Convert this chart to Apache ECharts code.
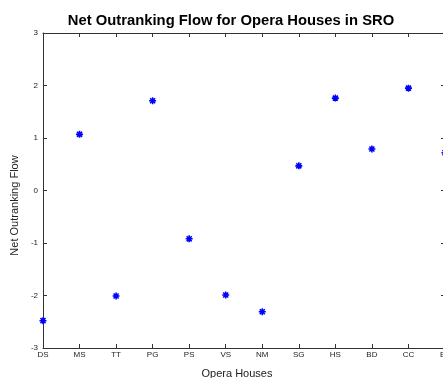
<!DOCTYPE html>
<html><head><meta charset="utf-8">
<script src="https://cdn.jsdelivr.net/npm/echarts@6/dist/echarts.min.js"></script>
<style>html,body{margin:0;padding:0;background:#fff;overflow:hidden}#c{width:443px;height:378px}</style>
</head><body><div id="c"></div>
<script>
const categories = ['DS','MS','TT','PG','PS','VS','NM','SG','HS','BD','CC','BF'];
const flowValues = [-2.48, 1.07, -2.01, 1.71, -0.92, -1.99, -2.31, 0.47, 1.76, 0.79, 1.95, 0.72];
const yTicks = [-3, -2, -1, 0, 1, 2, 3];

const chart = echarts.init(document.getElementById('c'), null, {renderer: 'canvas'});
const axisCol = '#333';
const font = 'Liberation Sans, Arial, Helvetica, sans-serif';
const asterisk = 'path://M0,-5L0,5M-5,0L5,0M-3.6,-3.6L3.6,3.6M-3.6,3.6L3.6,-3.6';
chart.setOption({
  animation: false,
  title: {
    text: 'Net Outranking Flow for Opera Houses in SRO',
    left: 226, top: 8, textAlign: 'center',
    textStyle: {fontFamily: font, fontSize: 14.8, fontWeight: 'bold', color: '#000'}
  },
  grid: {left: 43, right: -2, top: 33, bottom: 30, containLabel: false, outerBoundsMode: 'none'},
  xAxis: [{
    type: 'category', data: categories, boundaryGap: false, position: 'bottom',
    name: 'Opera Houses', nameLocation: 'middle', nameGap: 20,
    nameTextStyle: {fontFamily: font, fontSize: 11, color: '#222', padding: [0, 0, 0, -14]},
    axisLine: {show: true, onZero: false, lineStyle: {color: axisCol, width: 1}},
    axisTick: {show: true, inside: true, length: 4, alignWithLabel: true, lineStyle: {color: axisCol}},
    axisLabel: {fontFamily: font, fontSize: 8, color: '#222', margin: 3, interval: 0},
    splitLine: {show: false}
  }, {
    type: 'category', data: categories, boundaryGap: false, position: 'top',
    axisLine: {show: true, onZero: false, lineStyle: {color: axisCol, width: 1}},
    axisTick: {show: true, inside: true, length: 4, lineStyle: {color: axisCol}},
    axisLabel: {show: false}, splitLine: {show: false}
  }],
  yAxis: [{
    type: 'value', min: yTicks[0], max: yTicks[yTicks.length - 1], interval: 1,
    name: 'Net Outranking Flow', nameLocation: 'middle', nameGap: 17,
    nameTextStyle: {fontFamily: font, fontSize: 11, color: '#222', padding: [0, 0, 0, -30]},
    axisLine: {show: true, onZero: false, lineStyle: {color: axisCol, width: 1}},
    axisTick: {show: true, inside: true, length: 4, lineStyle: {color: axisCol}},
    axisLabel: {fontFamily: font, fontSize: 8, color: '#222', margin: 5},
    splitLine: {show: false}
  }, {
    type: 'value', min: yTicks[0], max: yTicks[yTicks.length - 1], interval: 1, position: 'right',
    axisLine: {show: true, onZero: false, lineStyle: {color: axisCol, width: 1}},
    axisTick: {show: true, inside: true, length: 4, lineStyle: {color: axisCol}},
    axisLabel: {show: false}, splitLine: {show: false}
  }],
  series: [{
    type: 'scatter', xAxisIndex: 0, yAxisIndex: 0,
    data: flowValues, symbol: asterisk, symbolSize: 7,
    itemStyle: {color: 'rgba(0,0,255,0)', borderColor: '#0000ff', borderWidth: 1.6, opacity: 1},
    clip: false
  }]
});
</script></body></html>
